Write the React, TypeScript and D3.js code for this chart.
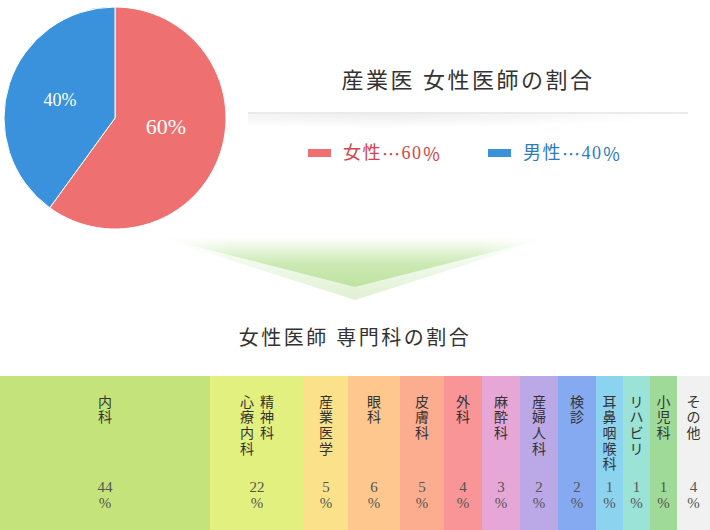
import React from 'react';
import * as d3 from 'd3';

// gender split (産業医)
const genderLabels = ['女性', '男性'];
const genderValues = [60, 40];
const genderColors = ['#ef7070', '#3992db'];
const genderTextColors = ['#d6434b', '#2f7bbb'];

// specialties of female doctors; each inner array = vertical text columns (right to left)
const deptLabels = [
  ['内科'],
  ['精神科', '心療内科'],
  ['産業医学'],
  ['眼科'],
  ['皮膚科'],
  ['外科'],
  ['麻酔科'],
  ['産婦人科'],
  ['検診'],
  ['耳鼻咽喉科'],
  ['リハビリ'],
  ['小児科'],
  ['その他'],
];
const deptValues = [44, 22, 5, 6, 5, 4, 3, 2, 2, 1, 1, 1, 4];
const deptColors = [
  '#c4e37a', '#e2f07f', '#fae18a', '#fec78e', '#fdad8f', '#f99597', '#e6a7d6',
  '#bba8e6', '#86aaf1', '#8cd3f0', '#9be3d6', '#9fda98', '#f1f1f1',
];

// column layout weights (the band widths are not proportional to the values)
const colUnits = [210, 94, 44, 52, 44, 38, 38, 38, 38, 27, 27, 27, 33];

const W = 710;
const H = 530;
const serif = '"Liberation Serif", "DejaVu Serif", "Noto Sans CJK JP", serif';
const cjk = '"Noto Sans CJK JP", sans-serif';

const App: React.FC = () => {
  // pie
  const cx = 115, cy = 118, r = 111;
  const pie = d3.pie<number>().sort(null).value(d => d)(genderValues);
  const arc = d3.arc<d3.PieArcDatum<number>>().innerRadius(0).outerRadius(r);
  const labelArc = d3.arc<d3.PieArcDatum<number>>().innerRadius(0).outerRadius(r * 1.04);
  const labelSize = d3.scaleLinear().domain([40, 60]).range([18, 22]);
  // the big slice's label sits a bit higher than its centroid in the original
  const labelNudge = [[-4, -9], [0, 0]];

  // stacked band
  const cum = [0, ...d3.cumsum(colUnits)];
  const x = d3.scaleLinear().domain([0, cum[cum.length - 1]]).range([0, W]);
  const bandTop = 376;
  const charStep = 15.7;
  const colGap = 20;

  return (
    <svg width={W} height={H} style={{ position: 'absolute', left: 0, top: 0 }} fontFamily={serif}>
      <defs>
        <linearGradient id="arrowIn" x1="0" y1="0" x2="0" y2="1">
          <stop offset="0" stopColor="#ffffff" />
          <stop offset="0.55" stopColor="#cbe9b3" />
          <stop offset="1" stopColor="#bfe3a2" />
        </linearGradient>
        <linearGradient id="arrowOut" x1="0" y1="0" x2="0" y2="1">
          <stop offset="0" stopColor="#ffffff" />
          <stop offset="0.5" stopColor="#eef8e8" />
          <stop offset="1" stopColor="#dff0d2" />
        </linearGradient>
        <linearGradient id="fadeH" x1="0" y1="0" x2="1" y2="0">
          <stop offset="0" stopColor="#fff" stopOpacity="0.1" />
          <stop offset="0.2" stopColor="#fff" stopOpacity="1" />
          <stop offset="0.8" stopColor="#fff" stopOpacity="1" />
          <stop offset="1" stopColor="#fff" stopOpacity="0.1" />
        </linearGradient>
        <mask id="arrowMask" maskUnits="userSpaceOnUse" x="150" y="230" width="410" height="80">
          <rect x="150" y="230" width="410" height="80" fill="url(#fadeH)" />
        </mask>
        <radialGradient id="shadow" cx="0.3" cy="0" r="0.7" fx="0.3" fy="0">
          <stop offset="0" stopColor="#000" stopOpacity="0.07" />
          <stop offset="1" stopColor="#000" stopOpacity="0" />
        </radialGradient>
      </defs>

      {/* pie */}
      <g transform={`translate(${cx},${cy})`}>
        {pie.map((d, i) => (
          <path key={i} d={arc(d) as string} fill={genderColors[i]} stroke="#fff" strokeWidth={1} />
        ))}
        {pie.map((d, i) => {
          const [lx, ly] = labelArc.centroid(d);
          return (
            <text key={i} x={lx + labelNudge[i][0]} y={ly + labelNudge[i][1]} textAnchor="middle"
              dominantBaseline="central" fill="#fff" fontSize={labelSize(d.data)}>
              {d.data}%
            </text>
          );
        })}
      </g>

      {/* title + rule */}
      <text x={468} y={80} textAnchor="middle" dominantBaseline="central" fontSize={22}
        letterSpacing={2.5} fill="#333">
        産業医 女性医師の割合
      </text>
      <rect x={248} y={114} width={440} height={20} fill="url(#shadow)" />
      <line x1={248} x2={688} y1={113} y2={113} stroke="#d6d6d6" strokeWidth={1} />

      {/* legend */}
      {genderLabels.map((g, i) => {
        const lx = 308 + i * 180;
        return (
          <g key={g}>
            <rect x={lx} y={149} width={23} height={8} fill={genderColors[i]} />
            <text x={lx + 35} y={153} dominantBaseline="central" fontSize={18}
              letterSpacing={1.5} fill={genderTextColors[i]}>
              {g}<tspan fontFamily={cjk}>…</tspan>{genderValues[i]}<tspan fontFamily={cjk}>％</tspan>
            </text>
          </g>
        );
      })}

      {/* arrow */}
      <g mask="url(#arrowMask)">
        <polygon points="158,237 552,237 355,300" fill="url(#arrowOut)" />
        <polygon points="158,237 552,237 355,287" fill="url(#arrowIn)" />
      </g>

      <text x={355} y={338} textAnchor="middle" dominantBaseline="central" fontSize={20}
        letterSpacing={2.5} fill="#333">
        女性医師 専門科の割合
      </text>

      {/* specialty band */}
      {deptValues.map((v, i) => {
        const x0 = x(cum[i]);
        const x1 = x(cum[i + 1]);
        const mid = (x0 + x1) / 2;
        const cols = deptLabels[i];
        return (
          <g key={i}>
            <rect x={x0} y={bandTop} width={x1 - x0} height={H - bandTop} fill={deptColors[i]} />
            {cols.map((col, c) => {
              const colX = mid + ((cols.length - 1) / 2 - c) * colGap;
              return Array.from(col).map((ch, k) => (
                <text key={`${c}-${k}`} x={colX} y={402 + k * charStep} textAnchor="middle"
                  dominantBaseline="central" fontSize={14} fill="#333">
                  {ch}
                </text>
              ));
            })}
            <text x={mid} y={487} textAnchor="middle" dominantBaseline="central" fontSize={15} fill="#555">
              {v}
            </text>
            <text x={mid} y={503} textAnchor="middle" dominantBaseline="central" fontSize={15} fill="#555">
              %
            </text>
          </g>
        );
      })}
    </svg>
  );
};

export default App;
